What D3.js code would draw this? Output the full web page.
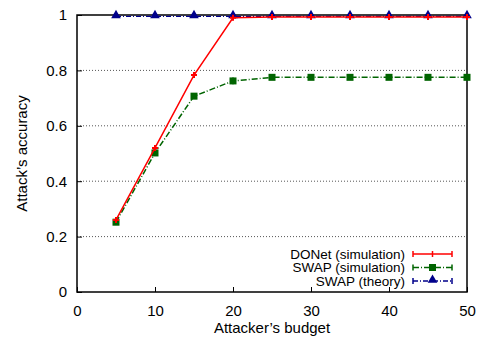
<!DOCTYPE html>
<html><head><meta charset="utf-8">
<script src="https://cdn.jsdelivr.net/npm/d3@7"></script>
<style>body{margin:0;background:#fff}svg{display:block}text{font-family:"Liberation Sans",Arial,sans-serif;fill:#000}</style>
</head><body><svg id="c" width="482" height="339"></svg>
<script>
const budgets = [5,10,15,20,25,30,35,40,45,50];
const donetSim = [0.26,0.52,0.783,0.99,0.993,0.993,0.993,0.993,0.993,0.993];
const swapSim = [0.252,0.502,0.707,0.762,0.775,0.775,0.775,0.775,0.775,0.775];
const swapSimErr = [0.005,0.006,0.006,0.012,0.006,0.005,0.005,0.005,0.005,0.005];
const swapTheory = [0.995,0.995,0.995,0.995,0.995,0.995,0.995,0.995,0.995,0.995];
const xTicks = [0,10,20,30,40,50];
const yTicks = [0,0.2,0.4,0.6,0.8,1];
const seriesNames = ["DONet (simulation)","SWAP (simulation)","SWAP (theory)"];

const svg = d3.select("#c");
const x = d3.scaleLinear().domain([0,50]).range([77,467]);
const y = d3.scaleLinear().domain([0,1]).range([292,15]);

// grid
svg.append("g").selectAll("line").data(yTicks.filter(d=>d>0&&d<1)).join("line")
  .attr("x1",x(0)).attr("x2",x(50)).attr("y1",d=>y(d)).attr("y2",d=>y(d))
  .attr("stroke","#555").attr("stroke-width",1).attr("stroke-dasharray","1,2");

// axes with inward ticks
const xa = svg.append("g").attr("transform",`translate(0,${y(0)})`)
  .call(d3.axisBottom(x).tickValues(xTicks).tickFormat(d3.format("d")).tickSizeInner(-5).tickSizeOuter(0).tickPadding(10));
const ya = svg.append("g").attr("transform",`translate(${x(0)},0)`)
  .call(d3.axisLeft(y).tickValues(yTicks).tickFormat(d=>d===0||d===1?d3.format("d")(d):d3.format(".1f")(d)).tickSizeInner(-5).tickSizeOuter(0).tickPadding(10));
[xa,ya].forEach(g=>{g.select(".domain").remove();g.selectAll("text").attr("font-size",15).attr("font-family","Liberation Sans, Arial, sans-serif");g.selectAll("line").attr("stroke","#000");});
xa.selectAll("text").attr("dy","0.9em");

// frame
svg.append("rect").attr("x",x(0)).attr("y",y(1)).attr("width",x(50)-x(0)).attr("height",y(0)-y(1))
  .attr("fill","none").attr("stroke","#000").attr("stroke-width",1.5);

svg.append("text").attr("x",(x(0)+x(50))/2).attr("y",333).attr("text-anchor","middle").attr("font-size",15).text("Attacker’s budget");
svg.append("text").attr("transform",`translate(27,${(y(0)+y(1))/2}) rotate(-90)`).attr("text-anchor","middle").attr("font-size",15).text("Attack’s accuracy");

const line = d3.line().x(d=>x(d[0])).y(d=>y(d[1]));
const zip = vals => budgets.map((b,i)=>[b,vals[i]]);

// SWAP theory
svg.append("path").datum(zip(swapTheory)).attr("d",line).attr("fill","none").attr("stroke","#00008b").attr("stroke-width",1.2).attr("stroke-dasharray","5,2,1,2");
const tri = d3.symbol().type(d3.symbolTriangle).size(40);
svg.append("g").selectAll("path").data(zip(swapTheory)).join("path").attr("d",tri)
  .attr("transform",d=>`translate(${x(d[0])},${y(d[1])-1})`).attr("fill","#00008b");

// SWAP sim
svg.append("path").datum(zip(swapSim)).attr("d",line).attr("fill","none").attr("stroke","#006400").attr("stroke-width",1.5).attr("stroke-dasharray","6,2,1,2");
svg.append("g").selectAll("line").data(zip(swapSim)).join("line")
  .attr("x1",d=>x(d[0])).attr("x2",d=>x(d[0])).attr("y1",(d,i)=>y(d[1]-swapSimErr[i])).attr("y2",(d,i)=>y(d[1]+swapSimErr[i]))
  .attr("stroke","#006400").attr("stroke-width",1.5);
svg.append("g").selectAll("rect").data(zip(swapSim)).join("rect")
  .attr("x",d=>x(d[0])-3.5).attr("y",d=>y(d[1])-3.5).attr("width",7).attr("height",7).attr("fill","#006400");

// DONet sim
svg.append("path").datum(zip(donetSim)).attr("d",line).attr("fill","none").attr("stroke","#ff0000").attr("stroke-width",1.5);
const plus = d3.symbol().type(d3.symbolCross).size(20);
svg.append("g").selectAll("path").data(zip(donetSim)).join("path").attr("d",plus)
  .attr("transform",d=>`translate(${x(d[0])},${y(d[1])})`).attr("fill","#ff0000");

// legend
const lg = svg.append("g");
const rows = [
  {name:seriesNames[0],color:"#ff0000",dash:null,mk:"plus"},
  {name:seriesNames[1],color:"#006400",dash:"6,2,1,2",mk:"sq"},
  {name:seriesNames[2],color:"#00008b",dash:"5,2,1,2",mk:"tri"}];
rows.forEach((r,i)=>{
  const yy = 254 + i*13.5;
  lg.append("text").attr("x",405).attr("y",yy).attr("dy","0.35em").attr("text-anchor","end").attr("font-size",13.5).text(r.name);
  lg.append("line").attr("x1",413).attr("x2",452).attr("y1",yy).attr("y2",yy).attr("stroke",r.color).attr("stroke-width",1.5).attr("stroke-dasharray",r.dash);
  [413,452].forEach(xx=>lg.append("line").attr("x1",xx).attr("x2",xx).attr("y1",yy-3).attr("y2",yy+3).attr("stroke",r.color).attr("stroke-width",1.5));
  if(r.mk==="sq") lg.append("rect").attr("x",432.5-3.5).attr("y",yy-3.5).attr("width",7).attr("height",7).attr("fill",r.color);
  else if(r.mk==="tri") lg.append("path").attr("d",tri).attr("transform",`translate(432.5,${yy-1})`).attr("fill",r.color);
  else lg.append("line").attr("x1",432.5).attr("x2",432.5).attr("y1",yy-3).attr("y2",yy+3).attr("stroke",r.color).attr("stroke-width",1.5);
});
</script></body></html>
